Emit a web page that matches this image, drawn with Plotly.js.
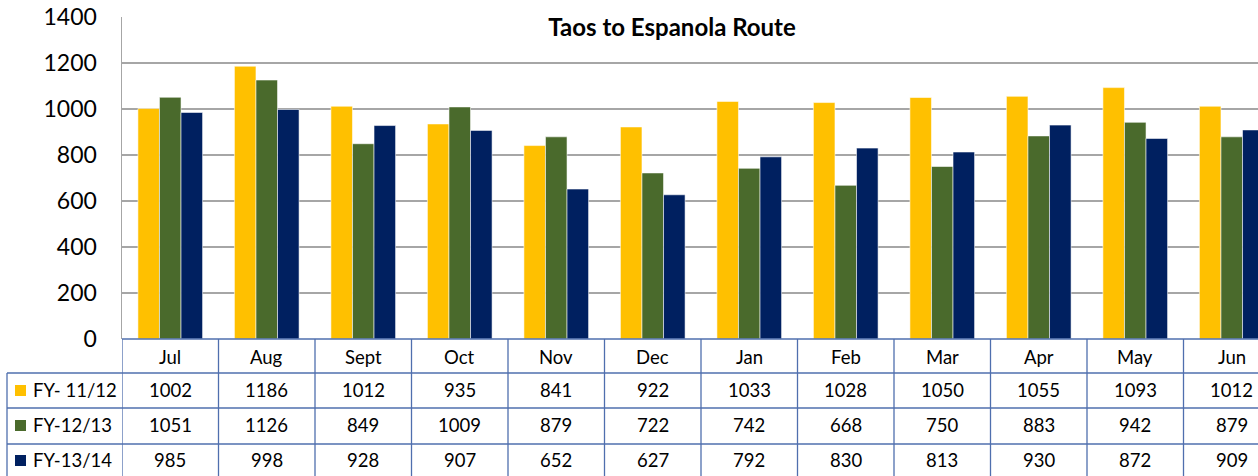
<!DOCTYPE html>
<html><head><meta charset="utf-8">
<script src="https://cdn.plot.ly/plotly-3.0.1.min.js"></script>
<style>html,body{margin:0;padding:0;overflow:hidden;background:#fff}#c{width:1290px;height:476px}</style>
</head><body><div id="c"></div>
<script>
const months = ["Jul","Aug","Sept","Oct","Nov","Dec","Jan","Feb","Mar","Apr","May","Jun"];
const seriesNames = ["FY- 11/12","FY-12/13","FY-13/14"];
const fy1112 = [1002,1186,1012,935,841,922,1033,1028,1050,1055,1093,1012];
const fy1213 = [1051,1126,849,1009,879,722,742,668,750,883,942,879];
const fy1314 = [985,998,928,907,652,627,792,830,813,930,872,909];
const colors = ["#FFC000","#4A6A2C","#002060"];
const chartTitle = "Taos to Espanola Route";

const W=1290,H=476,L=122,R=10,T=17,B=137;
const PW=W-L-R, PH=H-T-B;
const px2paperX = p => (p-L)/PW;
const py2paperY = p => (H-B-p)/PH;
const series=[fy1112,fy1213,fy1314];
const traces = series.map((v,i)=>({type:'bar',x:months,y:v,name:seriesNames[i],
  marker:{color:colors[i],line:{color:'rgba(255,255,255,0.55)',width:1}},hoverinfo:'y'}));

const border='#4F6FAE';
const rowLines=[373,408,444];
const rowCenters=[390,425,460];
const shapes=[];
const annotations=[];
const tf={size:18.5,color:'#000'};
shapes.push({type:'line',xref:'paper',yref:'paper',x0:0,x1:1,y0:py2paperY(339),y1:py2paperY(339),line:{color:border,width:1.3}});
rowLines.forEach(y=>shapes.push({type:'line',xref:'paper',yref:'paper',x0:px2paperX(7),x1:1,y0:py2paperY(y),y1:py2paperY(y),line:{color:border,width:1.3}}));
shapes.push({type:'line',xref:'paper',yref:'paper',x0:px2paperX(7),x1:px2paperX(7),y0:py2paperY(373),y1:py2paperY(480),line:{color:border,width:1.3}});
for(let k=0;k<=months.length;k++){
  shapes.push({type:'line',xref:'x',yref:'paper',x0:k-0.5,x1:k-0.5,y0:py2paperY(339),y1:py2paperY(480),line:{color:border,width:1.3}});
}
months.forEach((m,k)=>annotations.push({xref:'x',yref:'paper',x:m,y:py2paperY(357),text:m,showarrow:false,xanchor:'center',yanchor:'middle',font:tf}));
series.forEach((v,i)=>{
  shapes.push({type:'rect',xref:'paper',yref:'paper',x0:px2paperX(15),x1:px2paperX(26),y0:py2paperY(rowCenters[i]-5),y1:py2paperY(rowCenters[i]+6),fillcolor:colors[i],line:{width:0}});
  annotations.push({xref:'paper',yref:'paper',x:px2paperX(31),y:py2paperY(rowCenters[i]),text:seriesNames[i],showarrow:false,xanchor:'left',yanchor:'middle',font:tf});
  v.forEach((val,k)=>annotations.push({xref:'x',yref:'paper',x:months[k],y:py2paperY(rowCenters[i]),text:String(val),showarrow:false,xanchor:'center',yanchor:'middle',font:tf}));
});

const layout={width:W,height:H,margin:{l:L,r:R,t:T,b:B,pad:0},
  paper_bgcolor:'#fff',plot_bgcolor:'#fff',showlegend:false,
  font:{family:'Lato, "Noto Sans", sans-serif',color:'#000'},
  title:{text:'<b>'+chartTitle+'</b>',font:{size:24,family:'Lato, "Noto Sans", sans-serif',color:'#000'},xref:'paper',x:0.475,xanchor:'center',yref:'container',y:1-28/H,yanchor:'middle'},
  barmode:'group',bargap:0.33,bargroupgap:0,
  xaxis:{type:'category',showticklabels:false,showgrid:false,zeroline:false,showline:false,ticks:'',range:[-0.5,11.5]},
  yaxis:{range:[0,1400],dtick:200,tick0:0,showgrid:true,gridcolor:'#A6A6A6',gridwidth:1.5,zeroline:false,showline:true,linecolor:'#A6A6A6',linewidth:1.5,
    ticks:'',tickfont:{size:23,color:'#000'},ticklabelstandoff:19},
  shapes:shapes,annotations:annotations};
Plotly.newPlot('c',traces,layout,{displayModeBar:false,staticPlot:true});
</script></body></html>
